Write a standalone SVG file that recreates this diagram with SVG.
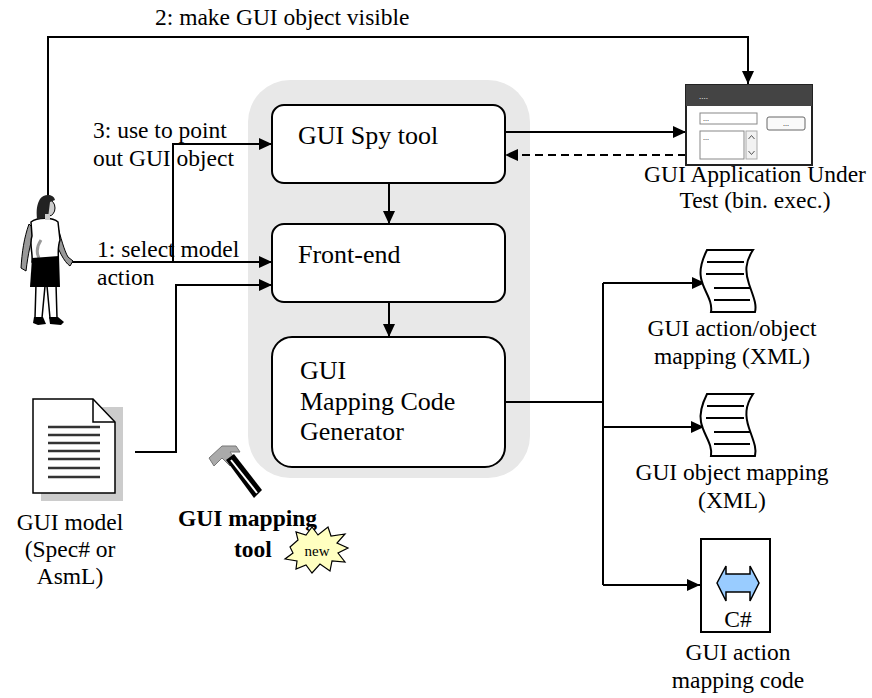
<svg xmlns="http://www.w3.org/2000/svg" width="872" height="698" viewBox="0 0 872 698">
<style>
  text { font-family: "Liberation Serif", "Times New Roman", serif; fill: #000; }
  .lbl { font-size: 23.5px; }
  .box { font-size: 26px; }
  .mid { text-anchor: middle; }
  .node { fill: #fff; stroke: #000; stroke-width: 2; }
  .wire { fill: none; stroke: #000; stroke-width: 2; }
  .dash { stroke-dasharray: 8 5; }
  .ln { stroke: #000; stroke-width: 2; }
</style>
<defs>
  <marker id="arr" markerUnits="userSpaceOnUse" markerWidth="14" markerHeight="12" refX="13" refY="6" orient="auto">
    <path d="M0,0 L13,6 L0,12 z" fill="#000"/>
  </marker>
  <path id="scroll" d="M6,0 H52 C44,12 44,22 48,34 C52,46 56,54 54,62 H10 C12,50 2,40 0,28 C-2,18 2,8 6,0 z"/>
</defs>

<!-- tool boundary -->
<rect id="toolArea" x="248" y="80" width="282" height="398" rx="42" fill="#e8e8e8"/>

<g id="connectors">
  <path class="wire" d="M48,197 V37 H748 V84" marker-end="url(#arr)"/>
  <path class="wire" d="M72,262 H272" marker-end="url(#arr)"/>
  <path class="wire" d="M173,262 V144 H272" marker-end="url(#arr)"/>
  <path class="wire" d="M135,452 H176 V285 H272" marker-end="url(#arr)"/>
  <path class="wire" d="M389,183 V224" marker-end="url(#arr)"/>
  <path class="wire" d="M389,302 V337" marker-end="url(#arr)"/>
  <path class="wire" d="M505,132 H686" marker-end="url(#arr)"/>
  <path class="wire dash" d="M686,155 H505" marker-end="url(#arr)"/>
  <path class="wire" d="M505,402 H603 M603,283 V585"/>
  <path class="wire" d="M603,283 H705" marker-end="url(#arr)"/>
  <path class="wire" d="M603,427 H704" marker-end="url(#arr)"/>
  <path class="wire" d="M603,585 H700" marker-end="url(#arr)"/>
</g>

<!-- labels on connectors -->
<g id="labels">
  <text class="lbl" x="155" y="25">2: make GUI object visible</text>
  <text class="lbl" x="93" y="138">3: use to point</text>
  <text class="lbl" x="93" y="166">out GUI object</text>
  <text class="lbl" x="97" y="257">1: select model</text>
  <text class="lbl" x="97" y="285">action</text>
</g>

<g id="spyTool">
  <rect class="node" x="272" y="105" width="233" height="78" rx="12"/>
  <text class="box" x="298" y="144">GUI Spy tool</text>
</g>

<g id="frontEnd">
  <rect class="node" x="272" y="224" width="233" height="78" rx="12"/>
  <text class="box" x="298" y="263">Front-end</text>
</g>

<g id="codeGenerator">
  <rect class="node" x="272" y="337" width="233" height="130" rx="20"/>
  <text class="box" x="300" y="379">GUI</text>
  <text class="box" x="300" y="410">Mapping Code</text>
  <text class="box" x="300" y="440">Generator</text>
</g>

<!-- user figure -->
<g id="user">
  <!-- legs -->
  <path d="M36,284 L35,318 L42,318 L45,286 z M47,286 L50,318 L57,318 L56,284 z" fill="#fff" stroke="#000" stroke-width="1.5"/>
  <!-- shoes -->
  <path d="M34,317 L43,317 L46,324 L38,325 L33,323 z" fill="#000"/>
  <path d="M49,317 L58,317 L64,322 L61,325 L50,324 z" fill="#000"/>
  <!-- arms -->
  <path d="M29,224 C24,238 22,252 21,268 L26,271 C28,254 31,240 35,230 z" fill="#999" stroke="#000" stroke-width="1"/>
  <path d="M57,224 C61,238 64,250 68,257 L73,261 L70,266 C64,262 58,250 52,232 z" fill="#999" stroke="#000" stroke-width="1"/>
  <!-- top -->
  <path d="M31,222 C37,217 53,217 58,222 L60,240 C57,248 59,256 58,260 L32,262 C33,252 29,244 32,236 z" fill="#fff" stroke="#000" stroke-width="1.5"/>
  <path d="M41,240 C37,246 36,252 39,258" fill="none" stroke="#999" stroke-width="3"/>
  <!-- skirt -->
  <path d="M32,258 L59,256 L60,287 L30,287 z" fill="#000"/>
  <!-- head and hair -->
  <ellipse cx="49" cy="208" rx="6" ry="8" fill="#ccc" stroke="#000" stroke-width="1"/>
  <path d="M40,199 C44,193 54,194 55,200 L50,202 L48,218 L37,219 C36,210 37,204 40,199 z" fill="#222"/>
  <rect x="45" y="214" width="5" height="6" fill="#ccc"/>
</g>

<g id="appUnderTest">
  <rect x="686" y="85" width="126" height="80" fill="#fff" stroke="#222" stroke-width="2"/>
  <rect x="686" y="85" width="126" height="21" fill="#444"/>
  <text x="699" y="99" font-size="9" style="fill:#fff" font-family="Liberation Sans, sans-serif">....</text>
  <rect x="700" y="113" width="57" height="11" fill="#fff" stroke="#888" stroke-width="1"/>
  <text x="703" y="121" font-size="8" font-family="Liberation Sans, sans-serif">...</text>
  <rect x="767" y="117" width="38" height="13" rx="2" fill="#fafafa" stroke="#666" stroke-width="1"/>
  <text x="786" y="126" font-size="8" class="mid" font-family="Liberation Sans, sans-serif">...</text>
  <rect x="700" y="131" width="44" height="28" fill="#fff" stroke="#888" stroke-width="1"/>
  <text x="703" y="140" font-size="8" font-family="Liberation Sans, sans-serif">...</text>
  <rect x="746" y="131" width="11" height="28" fill="#f2f2f2" stroke="#aaa" stroke-width="1"/>
  <path d="M748.5,139 L751.5,135.5 L754.5,139 M748.5,151 L751.5,154.5 L754.5,151" fill="none" stroke="#555" stroke-width="1"/>
  <text class="lbl mid" x="755" y="182">GUI Application Under</text>
  <text class="lbl mid" x="755" y="208">Test (bin. exec.)</text>
</g>

<g id="guiModel">
  <path d="M41,407 H123 V501 H41 z" fill="#ccc"/>
  <path d="M33,399 H93 L115,422 V493 H33 z" fill="#fff" stroke="#000" stroke-width="1.5"/>
  <path d="M93,399 V422 H115" fill="none" stroke="#000" stroke-width="1.5"/>
  <g stroke="#333" stroke-width="2.5">
    <line x1="48" y1="427" x2="100" y2="427"/>
    <line x1="48" y1="435" x2="100" y2="435"/>
    <line x1="48" y1="443" x2="100" y2="443"/>
    <line x1="48" y1="451" x2="100" y2="451"/>
    <line x1="48" y1="459" x2="100" y2="459"/>
    <line x1="48" y1="468" x2="100" y2="468"/>
    <line x1="48" y1="477" x2="100" y2="477"/>
  </g>
  <text class="lbl mid" x="70" y="530">GUI model</text>
  <text class="lbl mid" x="70" y="557">(Spec# or</text>
  <text class="lbl mid" x="70" y="584">AsmL)</text>
</g>

<g id="mappingTool">
  <!-- hammer -->
  <path d="M209,458 L222,446 L236,446 L240,452 L230,452 L236,460 L230,466 L222,458 L214,466 z" fill="#aaa" stroke="#777" stroke-width="1"/>
  <path d="M226,460 L234,454 L262,490 L254,498 z" fill="#000"/>
  <path d="M231,460 L257,493" stroke="#fff" stroke-width="2"/>
  <text x="178" y="526" font-size="23.5" font-weight="bold">GUI mapping</text>
  <text x="234" y="557" font-size="23.5" font-weight="bold">tool</text>
  <path d="M290,547 L298,540 L296,532 L306,535 L312,527 L318,535 L328,527 L331,536 L345,534 L337,543 L348,548 L338,553 L345,562 L332,561 L330,571 L320,564 L312,573 L306,565 L296,569 L297,561 L285,559 L293,553 z" fill="#ffffc0" stroke="#000" stroke-width="1.2"/>
  <text x="317" y="556" font-size="15" class="mid">new</text>
</g>

<g id="actionObjectMapping">
  <use href="#scroll" x="701" y="250" fill="#fff" stroke="#000" stroke-width="2"/>
  <g class="ln">
    <line x1="707" y1="262" x2="744" y2="262"/>
    <line x1="706" y1="274" x2="744" y2="274"/>
    <line x1="714" y1="288" x2="750" y2="288"/>
    <line x1="714" y1="300" x2="750" y2="300"/>
  </g>
  <text class="lbl mid" x="732" y="336">GUI action/object</text>
  <text class="lbl mid" x="732" y="364">mapping (XML)</text>
</g>

<g id="objectMapping">
  <use href="#scroll" x="701" y="394" fill="#fff" stroke="#000" stroke-width="2"/>
  <g class="ln">
    <line x1="707" y1="406" x2="744" y2="406"/>
    <line x1="706" y1="418" x2="744" y2="418"/>
    <line x1="714" y1="432" x2="750" y2="432"/>
    <line x1="714" y1="444" x2="750" y2="444"/>
  </g>
  <text class="lbl mid" x="732" y="480">GUI object mapping</text>
  <text class="lbl mid" x="732" y="508">(XML)</text>
</g>

<g id="actionMappingCode">
  <rect x="701" y="539" width="69" height="93" fill="#fff" stroke="#000" stroke-width="2"/>
  <path d="M717,583 L726,566 V574 H750 V566 L759,583 L750,601 V592 H726 V601 z" fill="#99ccff" stroke="#000" stroke-width="1.5"/>
  <text class="lbl mid" x="738" y="627">C#</text>
  <text class="lbl mid" x="738" y="660">GUI action</text>
  <text class="lbl mid" x="738" y="688">mapping code</text>
</g>
</svg>
